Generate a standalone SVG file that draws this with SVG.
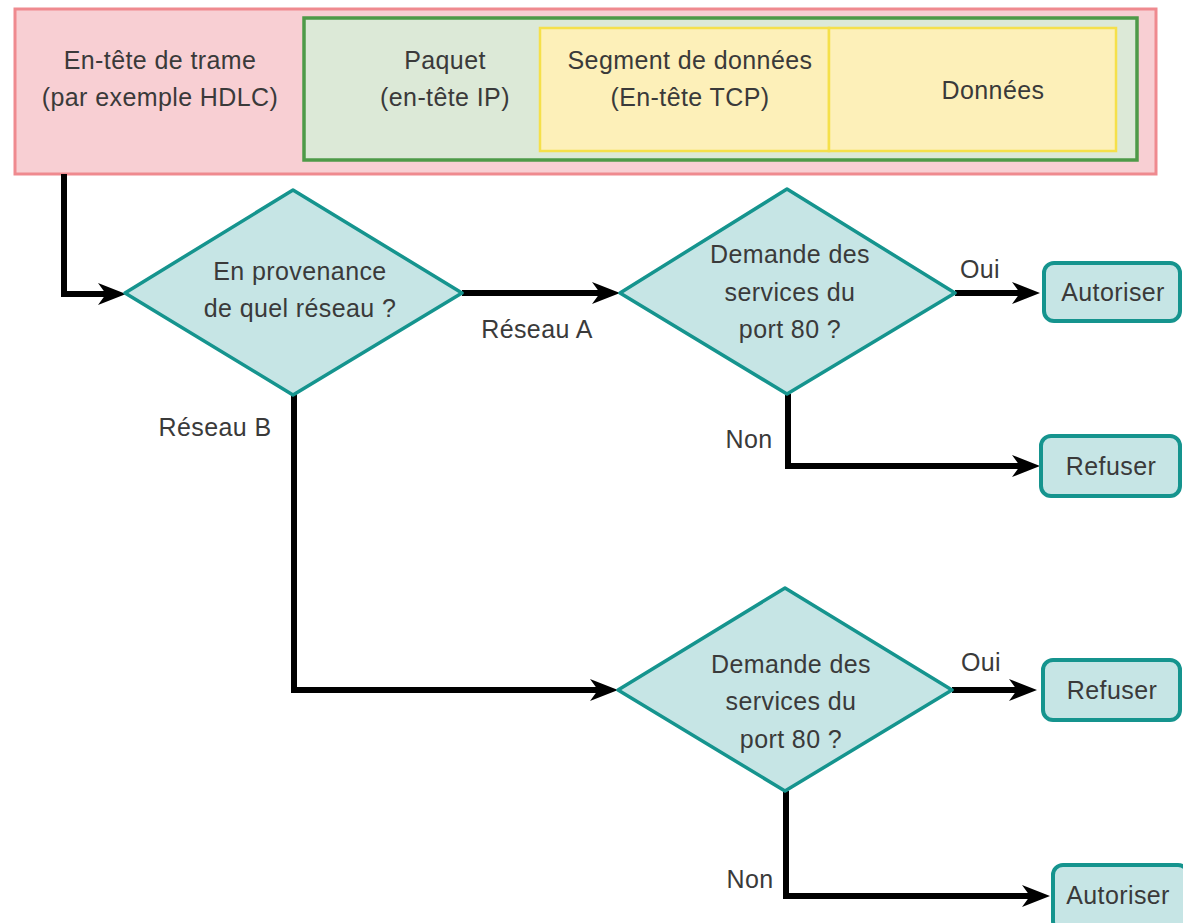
<svg xmlns="http://www.w3.org/2000/svg" width="1183" height="923" viewBox="0 0 1183 923">
<style>
text{font-family:"Liberation Sans",Arial,sans-serif;font-size:25px;fill:#3a3a3a;text-anchor:middle;letter-spacing:0.4px}
.dia{fill:#c6e5e5;stroke:#15948e;stroke-width:3.5;stroke-linejoin:round}
.box{fill:#c6e5e5;stroke:#15948e;stroke-width:4}
.conn{fill:none;stroke:#000;stroke-width:6;stroke-linejoin:miter}
</style>
<defs>
<marker id="arr" viewBox="0 0 28 22" markerWidth="28" markerHeight="22" markerUnits="userSpaceOnUse" refX="10" refY="11" orient="auto">
<path d="M0,0 L28,11 L0,22 L8,11 Z" fill="#000"/>
</marker>
</defs>
<rect width="1183" height="923" fill="#fff"/>
<g id="frame">
<rect x="15" y="9" width="1141" height="165" fill="#f8cfd3" stroke="#ef8a8f" stroke-width="3"/>
<text x="160" y="69">En-tête de trame</text>
<text x="160" y="106">(par exemple HDLC)</text>
</g>
<g id="packet">
<rect x="304" y="18" width="833" height="142" fill="#dce9d7" stroke="#4e9a48" stroke-width="3.5"/>
<text x="445" y="69">Paquet</text>
<text x="445" y="106">(en-tête IP)</text>
</g>
<g id="segment">
<rect x="540" y="28" width="289" height="123" fill="#fdf0b9" stroke="#f5e04a" stroke-width="2.5"/>
<text x="690" y="69">Segment de données</text>
<text x="690" y="106">(En-tête TCP)</text>
</g>
<g id="data">
<rect x="829" y="28" width="287" height="123" fill="#fdf0b9" stroke="#f5e04a" stroke-width="2.5"/>
<text x="993" y="99">Données</text>
</g>
<g id="connectors">
<path class="conn" d="M64,174 V294 H108" marker-end="url(#arr)"/>
<path class="conn" d="M462,293 H602" marker-end="url(#arr)"/>
<path class="conn" d="M955,293 H1022" marker-end="url(#arr)"/>
<path class="conn" d="M788,394 V466 H1022" marker-end="url(#arr)"/>
<path class="conn" d="M294,394 V690 H600" marker-end="url(#arr)"/>
<path class="conn" d="M952,690 H1019" marker-end="url(#arr)"/>
<path class="conn" d="M786,791 V896 H1032" marker-end="url(#arr)"/>
<text x="537" y="338">Réseau A</text>
<text x="215" y="436">Réseau B</text>
<text x="980" y="278">Oui</text>
<text x="749" y="448">Non</text>
<text x="981" y="671">Oui</text>
<text x="750" y="888">Non</text>
</g>
<g id="d1">
<polygon class="dia" points="293,190 462,293 293,395 125,293"/>
<text x="300" y="280">En provenance</text>
<text x="300" y="317">de quel réseau ?</text>
</g>
<g id="d2">
<polygon class="dia" points="787,189 955,293 787,394 620,293"/>
<text x="790" y="263">Demande des</text>
<text x="790" y="301">services du</text>
<text x="790" y="338">port 80 ?</text>
</g>
<g id="d3">
<polygon class="dia" points="785,588 952,690 785,791 618,690"/>
<text x="791" y="673">Demande des</text>
<text x="791" y="710">services du</text>
<text x="791" y="748">port 80 ?</text>
</g>
<g id="allow1">
<rect class="box" x="1044" y="263" width="136" height="58" rx="10"/>
<text x="1113" y="301">Autoriser</text>
</g>
<g id="deny1">
<rect class="box" x="1041" y="436" width="139" height="60" rx="10"/>
<text x="1111" y="475">Refuser</text>
</g>
<g id="deny2">
<rect class="box" x="1043" y="660" width="137" height="60" rx="10"/>
<text x="1112" y="699">Refuser</text>
</g>
<g id="allow2">
<rect class="box" x="1053" y="865" width="135" height="66" rx="10"/>
<text x="1118" y="904">Autoriser</text>
</g>
</svg>
